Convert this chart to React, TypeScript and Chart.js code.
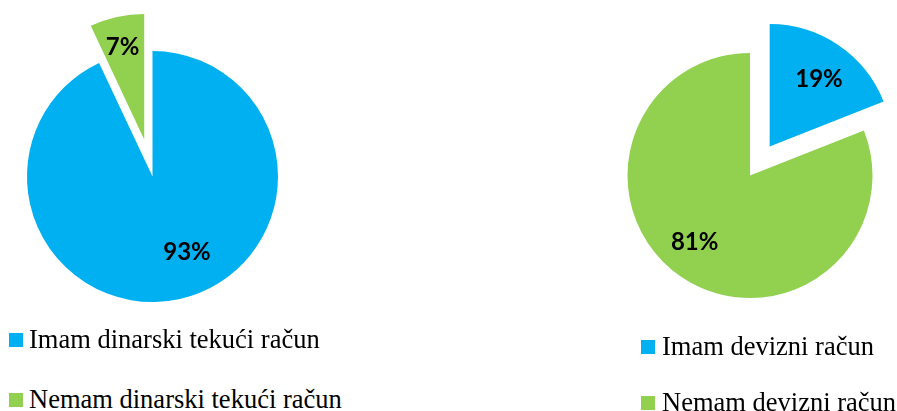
import React, { useEffect, useRef } from 'react';
import { Chart, PieController, ArcElement } from 'chart.js';

Chart.register(PieController, ArcElement);

const BLUE = '#00B0F0';
const GREEN = '#92D050';

const leftCategories = ['Imam dinarski tekući račun', 'Nemam dinarski tekući račun'];
const leftValues = [93, 7];
const leftColors = [BLUE, GREEN];

const rightCategories = ['Imam devizni račun', 'Nemam devizni račun'];
const rightValues = [19, 81];
const rightColors = [BLUE, GREEN];

const explodePlugin = {
  id: 'explode',
  afterDatasetsUpdate(chart: any, _args: any, opts: any) {
    const meta = chart.getDatasetMeta(0);
    const amounts: number[] = opts.amounts || [];
    meta.data.forEach((arc: any, i: number) => {
      const e = amounts[i] || 0;
      if (!e) return;
      const mid = (arc.startAngle + arc.endAngle) / 2;
      arc.x += Math.cos(mid) * e;
      arc.y += Math.sin(mid) * e;
    });
  },
};

const labelPlugin = {
  id: 'sliceLabels',
  afterDatasetsDraw(chart: any, _args: any, opts: any) {
    const ctx = chart.ctx as CanvasRenderingContext2D;
    const meta = chart.getDatasetMeta(0);
    const values = chart.data.datasets[0].data as number[];
    ctx.save();
    ctx.font = `bold ${opts.size}px ${opts.family}`;
    ctx.fillStyle = opts.color;
    ctx.textAlign = 'center';
    ctx.textBaseline = 'alphabetic';
    meta.data.forEach((arc: any, i: number) => {
      const mid = (arc.startAngle + arc.endAngle) / 2 + ((opts.angleShift[i] || 0) * Math.PI) / 180;
      const d = arc.outerRadius * opts.radiusFraction[i];
      const x = arc.x + Math.cos(mid) * d;
      const y = arc.y + Math.sin(mid) * d;
      ctx.fillText(values[i] + '%', x, y + (opts.size * 0.716) / 2);
    });
    ctx.restore();
  },
};

type PieProps = {
  categories: string[];
  values: number[];
  colors: string[];
  radius: number;
  explode: number[];
  angleShift: number[];
  radiusFraction: number[];
  left: number;
  top: number;
  width: number;
  height: number;
};

function PieChart(p: PieProps) {
  const ref = useRef<HTMLCanvasElement>(null);
  useEffect(() => {
    const chart = new Chart(ref.current as HTMLCanvasElement, {
      type: 'pie',
      data: {
        labels: p.categories,
        datasets: [
          {
            data: p.values,
            backgroundColor: p.colors,
            borderWidth: 0,
            radius: p.radius,
          } as any,
        ],
      },
      options: {
        responsive: false,
        maintainAspectRatio: false,
        animation: false,
        events: [],
        layout: { padding: 0 },
        plugins: {
          explode: { amounts: p.explode },
          sliceLabels: {
            size: 24,
            family: 'Lato, "Open Sans", sans-serif',
            color: '#000000',
            angleShift: p.angleShift,
            radiusFraction: p.radiusFraction,
          },
        } as any,
      },
      plugins: [explodePlugin, labelPlugin],
    });
    return () => chart.destroy();
  }, []);
  return (
    <canvas
      ref={ref}
      width={p.width}
      height={p.height}
      style={{ position: 'absolute', left: p.left, top: p.top, width: p.width, height: p.height }}
    />
  );
}

type LegendProps = {
  categories: string[];
  colors: string[];
  left: number;
  tops: number[];
  gap: number;
};

function Legend(p: LegendProps) {
  return (
    <>
      {p.categories.map((c, i) => (
        <div
          key={c}
          style={{
            position: 'absolute',
            left: p.left,
            top: p.tops[i],
            height: 30,
            lineHeight: '30px',
            fontSize: '26.5px',
            fontFamily: "'Liberation Serif', 'DejaVu Serif', serif",
            color: '#000',
            whiteSpace: 'nowrap',
          }}
        >
          <span
            style={{
              display: 'inline-block',
              width: 14,
              height: 14,
              background: p.colors[i],
              marginRight: p.gap,
              verticalAlign: '1px',
            }}
          />
          {c}
        </div>
      ))}
    </>
  );
}

export default function App() {
  return (
    <div
      style={{
        position: 'fixed',
        left: 0,
        top: 0,
        width: 897,
        height: 411,
        overflow: 'hidden',
        background: '#ffffff',
      }}
    >
      <PieChart
        categories={leftCategories}
        values={leftValues}
        colors={leftColors}
        radius={125.5}
        explode={[0, 38]}
        angleShift={[-12.1, -0.5]}
        radiusFraction={[0.658, 0.76]}
        left={0}
        top={0}
        width={305}
        height={353}
      />
      <PieChart
        categories={rightCategories}
        values={rightValues}
        colors={rightColors}
        radius={122.5}
        explode={[35, 0]}
        angleShift={[1.7, 6.0]}
        radiusFraction={[0.687, 0.7]}
        left={603}
        top={0}
        width={294}
        height={351}
      />
      <Legend categories={leftCategories} colors={leftColors} left={9} tops={[324, 384]} gap={6} />
      <Legend categories={rightCategories} colors={rightColors} left={641} tops={[331, 387]} gap={7} />
    </div>
  );
}
